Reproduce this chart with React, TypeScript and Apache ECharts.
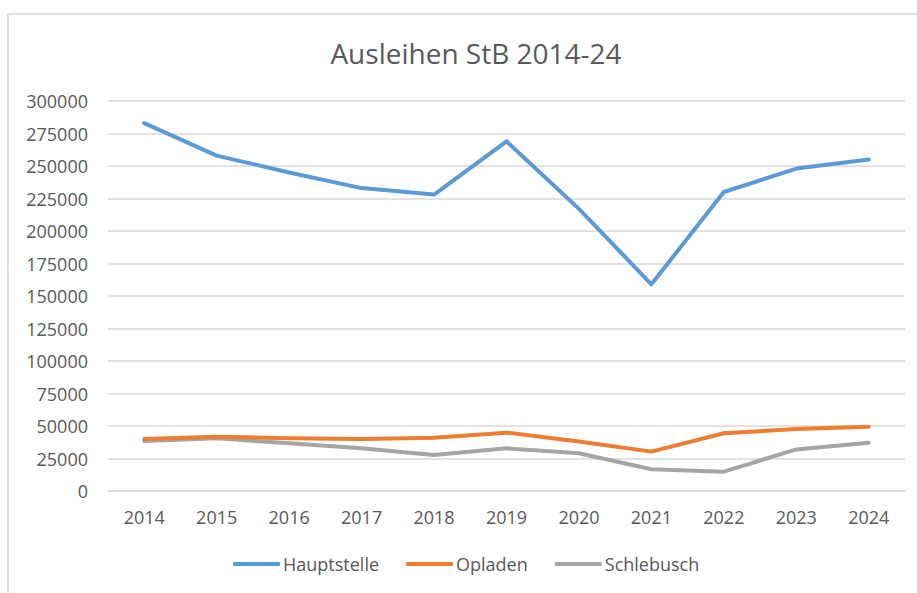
import React, { useEffect, useRef } from "react";
import * as echarts from "echarts";

const years = ["2014", "2015", "2016", "2017", "2018", "2019", "2020", "2021", "2022", "2023", "2024"];
const hauptstelle = [283000, 258000, 245000, 233000, 228000, 269000, 217000, 159000, 230000, 248000, 255000];
const opladen = [40000, 41800, 40500, 40000, 41000, 44900, 38000, 30300, 44400, 47700, 49500];
const schlebusch = [38500, 40500, 36700, 32800, 27700, 32800, 29000, 16700, 14900, 32000, 37200];
const seriesNames = ["Hauptstelle", "Opladen", "Schlebusch"];
const colors = ["#5B9BD5", "#ED7D31", "#A5A5A5"];
const titleText = "Ausleihen StB 2014-24";

const FONT = "'Open Sans', 'Noto Sans', sans-serif";
const TEXT_COLOR = "#595959";
const GRID_COLOR = "#d9d9d9";

export default function App() {
  const ref = useRef<HTMLDivElement>(null);
  useEffect(() => {
    if (!ref.current) return;
    const chart = echarts.init(ref.current, null, { renderer: "svg" });
    const dataSets = [hauptstelle, opladen, schlebusch];
    chart.setOption({
      animation: false,
      backgroundColor: "#ffffff",
      title: {
        text: titleText,
        left: 471,
        top: 34,
        textAlign: "center",
        textStyle: { fontFamily: FONT, fontSize: 28, fontWeight: "normal", color: TEXT_COLOR },
      },
      graphic: [
        { type: "line", shape: { x1: 8, y1: 14, x2: 8, y2: 593 }, style: { stroke: "#dedede", lineWidth: 2 } },
        { type: "line", shape: { x1: 8, y1: 14, x2: 917, y2: 14 }, style: { stroke: "#dedede", lineWidth: 2 } },
      ],
      legend: {
        data: seriesNames,
        left: 233,
        top: 555,
        padding: 0,
        icon: "roundRect",
        itemWidth: 47,
        itemHeight: 4,
        itemGap: 27,
        textStyle: { fontFamily: FONT, fontSize: 18, color: TEXT_COLOR, padding: [0, 0, 0, -2] },
      },
      grid: { left: 108, right: 12, top: 101, bottom: 102, containLabel: false },
      xAxis: {
        type: "category",
        data: years,
        boundaryGap: true,
        axisLine: { show: true, lineStyle: { color: GRID_COLOR, width: 1.5 } },
        axisTick: { show: false },
        axisLabel: { fontFamily: FONT, fontSize: 18, color: TEXT_COLOR, margin: 17 },
      },
      yAxis: {
        type: "value",
        min: 0,
        max: 300000,
        interval: 25000,
        axisLine: { show: false },
        axisTick: { show: false },
        splitLine: { lineStyle: { color: GRID_COLOR, width: 1.5 } },
        axisLabel: {
          fontFamily: FONT,
          fontSize: 18,
          color: TEXT_COLOR,
          margin: 20,
          formatter: (v: number) => String(v),
        },
      },
      series: seriesNames.map((name, i) => ({
        name,
        type: "line",
        data: dataSets[i],
        showSymbol: false,
        symbol: "none",
        color: colors[i],
        lineStyle: { color: colors[i], width: 4, cap: "round", join: "round" },
        z: 3 - i,
      })),
    });
    return () => chart.dispose();
  }, []);
  return <div ref={ref} style={{ position: "fixed", left: 0, top: 0, width: 917, height: 593 }} />;
}
